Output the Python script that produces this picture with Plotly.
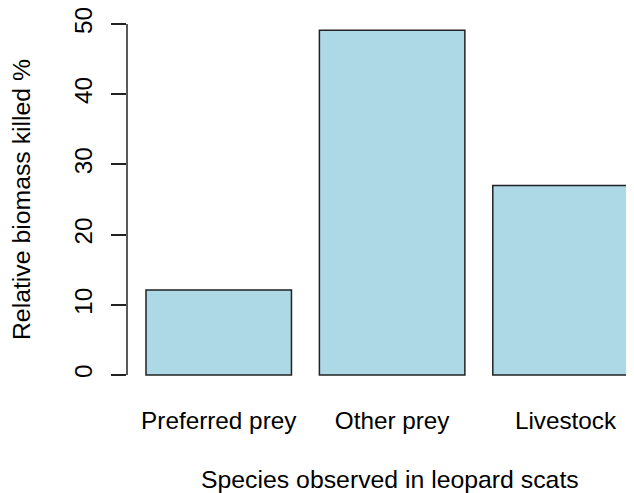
import plotly.graph_objects as go

categories = ["Preferred prey", "Other prey", "Livestock"]
values = [12.1, 49.1, 27.0]
y_ticks = [0, 10, 20, 30, 40, 50]
x_title = "Species observed in leopard scats"
y_title = "Relative biomass killed %"

FONT = "Liberation Sans, Arial, Helvetica, sans-serif"

fig = go.Figure()
fig.add_trace(go.Bar(
    x=categories, y=values,
    marker=dict(color="#ADD8E6", line=dict(color="#222222", width=1.5)),
    width=0.839,
))

# y axis line spanning only the tick range (like R's axis())
fig.add_shape(type="line", xref="paper", yref="y", x0=0, x1=0,
              y0=min(y_ticks), y1=max(y_ticks),
              line=dict(color="#222222", width=1.5))

# x axis title (centred like R's full plot region, which extends past the crop)
fig.add_annotation(text=x_title, xref="paper", yref="paper",
                   x=0.5107, y=-0.2375, xanchor="center", yanchor="middle",
                   showarrow=False, font=dict(size=24.8))

fig.update_layout(
    width=634, height=493,
    margin=dict(l=119, r=0, t=2, b=112, autoexpand=False),
    paper_bgcolor="white", plot_bgcolor="white",
    font=dict(family=FONT, size=24, color="black"),
    showlegend=False,
    xaxis=dict(
        range=[-0.529, 2.441],
        automargin=False,
        showline=False, showgrid=False, zeroline=False,
        ticks="outside", ticklen=10, tickcolor="rgba(0,0,0,0)",
        tickfont=dict(size=24.3),
    ),
    yaxis=dict(
        range=[-2, 52],
        automargin=False,
        tickvals=y_ticks,
        showline=False, showgrid=False, zeroline=False,
        ticks="outside", ticklen=15, tickwidth=1.5, tickcolor="#222222",
        tickangle=-90, ticklabelstandoff=9, ticklabeloverflow="allow",
        tickfont=dict(size=24.3),
        title=dict(text=y_title, font=dict(size=24.8), standoff=34),
    ),
)

fig.write_html("out.html")
